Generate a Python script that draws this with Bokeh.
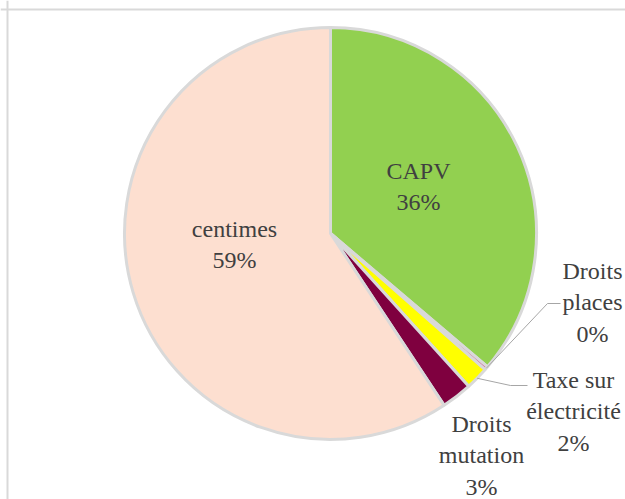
import math
from bokeh.plotting import figure
from bokeh.models import Range1d, ColumnDataSource, Span
from bokeh.core.properties import value
from bokeh.embed import file_html
from bokeh.resources import INLINE

# ---- data ----
categories = ["CAPV", "Droits places", "Taxe sur électricité", "Droits mutation", "centimes"]
shares = [36.2, 0.3, 1.8, 2.4, 59.3]
labels = ["CAPV\n36%", "Droits\nplaces\n0%", "Taxe sur\nélectricité\n2%", "Droits\nmutation\n3%", "centimes\n59%"]
colors = ["#92D050", "#D4589A", "#FFFF00", "#7F003F", "#FDDFD0"]

# ---- layout (pixels = data units) ----
W, H = 625, 499
CX, CY = 330, 233          # pie centre on canvas (from top-left)
R = 206
label_pos = [(88, 47), (262, -69), (243, -178), (151, -222), (-96, -11)]
leader_knee = [None, (217, -70), (180, -152), None, None]
leader_start = [None, (230, -70), (197, -152), None, None]

total = sum(shares)
starts, ends, mids = [], [], []
cum = 0.0
for s in shares:
    a0 = math.pi / 2 - cum / total * 2 * math.pi
    cum += s
    a1 = math.pi / 2 - cum / total * 2 * math.pi
    starts.append(a0)
    ends.append(a1)
    mids.append((a0 + a1) / 2)

p = figure(width=W, height=H, output_backend="svg", toolbar_location=None,
           x_range=Range1d(-CX, W - CX), y_range=Range1d(-(H - CY), CY),
           min_border=0, outline_line_color=None)
p.axis.visible = False
p.grid.visible = False
p.background_fill_color = "white"
p.border_fill_color = "white"

src = ColumnDataSource(dict(start=starts, end=ends, color=colors, cat=categories))
p.wedge(x=0, y=0, radius=R, start_angle="start", end_angle="end",
        direction="clock", fill_color="color", line_color="#D9D9D9",
        line_width=3, source=src)

# leader lines for outside labels
for i in range(len(categories)):
    if leader_knee[i] is None:
        continue
    ex = R * math.cos(mids[i])
    ey = R * math.sin(mids[i])
    sx, sy = leader_start[i]
    kx, ky = leader_knee[i]
    p.line([sx, kx, ex], [sy, ky, ey], line_color="#A6A6A6", line_width=1)

lsrc = ColumnDataSource(dict(x=[q[0] for q in label_pos], y=[q[1] for q in label_pos], text=labels))
p.text(x="x", y="y", text="text", source=lsrc, text_align="center",
       text_baseline="middle", text_font=value("Times"),
       text_font_size="24px", text_color="#404040", text_line_height=1.2)

# chart-area border (left and top edges only are inside the window)
p.add_layout(Span(location=-CX + 7, dimension="height", line_color="#D9D9D9", line_width=2))
p.add_layout(Span(location=CY - 9, dimension="width", line_color="#D9D9D9", line_width=2))

open("out.html", "w").write(file_html(p, INLINE))
